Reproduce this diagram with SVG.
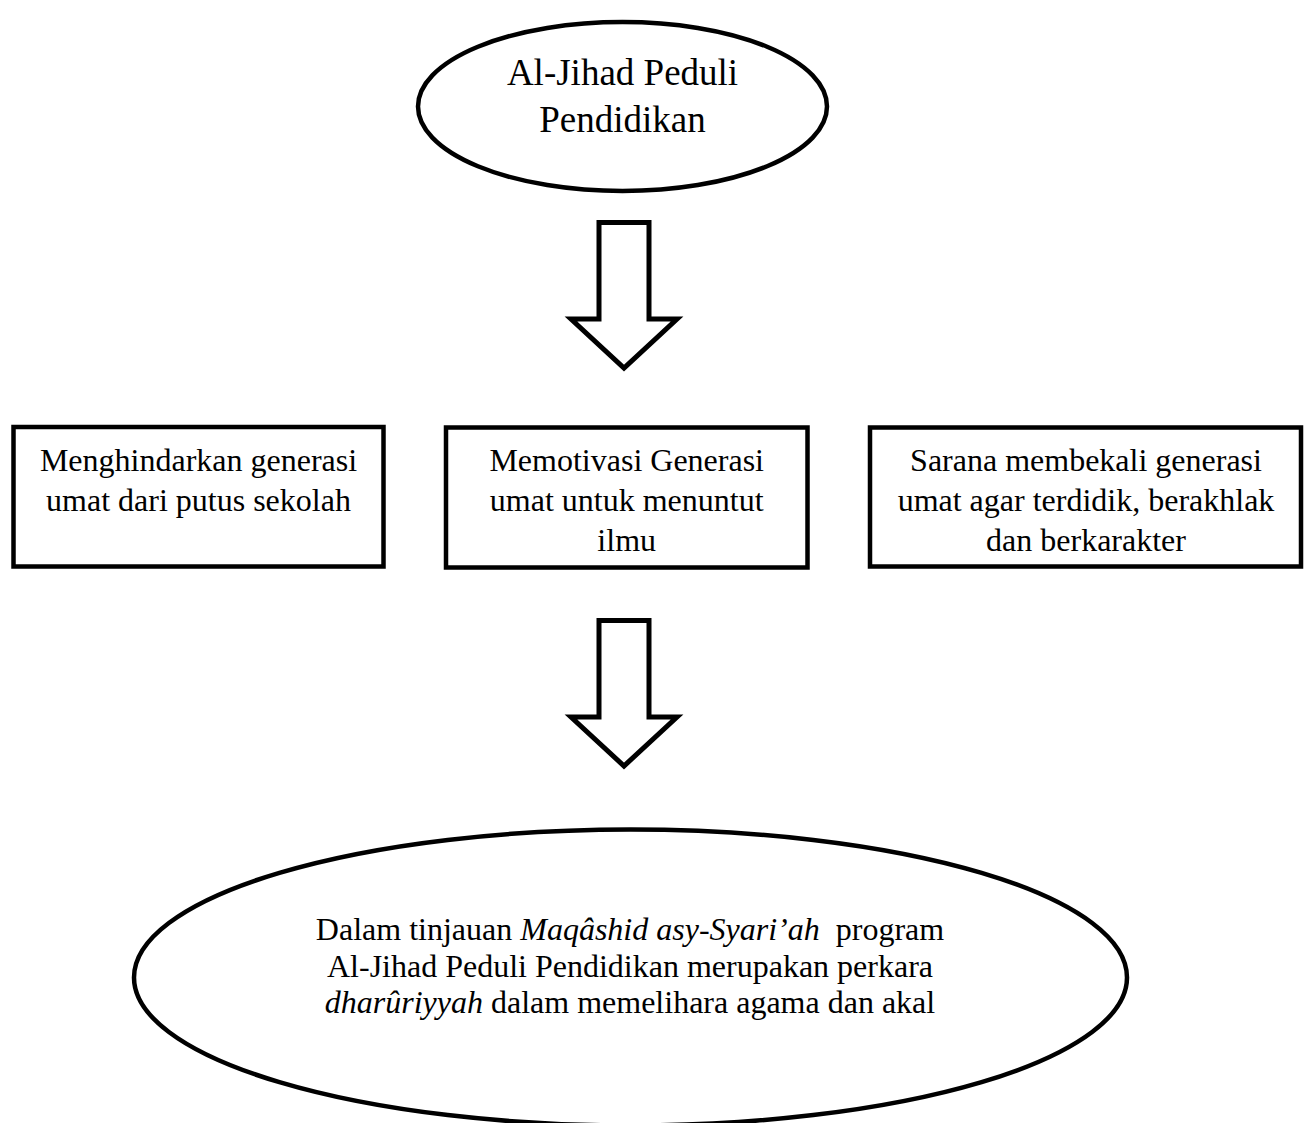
<svg xmlns="http://www.w3.org/2000/svg" width="1310" height="1123" viewBox="0 0 1310 1123">
<style>
.shape{fill:#fff;stroke:#000;stroke-width:4.5}
.arrow{fill:#fff;stroke:#000;stroke-width:5;stroke-linejoin:miter}
.t{font-family:"Liberation Serif","Times New Roman",serif;fill:#000;text-anchor:middle}
.big{font-size:37px}
.mid{font-size:32px}
.i{font-style:italic}
</style>
<rect width="1310" height="1123" fill="#fff"/>
<g id="connectors">
<path class="arrow" d="M599,222.5 H649 V319 H677 L624,368 L571,319 H599 Z"/>
<path class="arrow" d="M599,620.5 H649 V717 H677 L624,766 L571,717 H599 Z"/>
</g>
<g id="node-top">
<ellipse class="shape" cx="622.5" cy="106.5" rx="204.5" ry="84.5"/>
<text class="t big" x="622.5" y="85">Al-Jihad Peduli</text>
<text class="t big" x="622.5" y="132">Pendidikan</text>
</g>
<g id="node-box1">
<rect class="shape" x="13.5" y="427" width="370" height="139.5"/>
<text class="t mid" x="198.5" y="471">Menghindarkan generasi</text>
<text class="t mid" x="198.5" y="511">umat dari putus sekolah</text>
</g>
<g id="node-box2">
<rect class="shape" x="446" y="427.5" width="361.5" height="140"/>
<text class="t mid" x="626.7" y="471">Memotivasi Generasi</text>
<text class="t mid" x="626.7" y="511">umat untuk menuntut</text>
<text class="t mid" x="626.7" y="551">ilmu</text>
</g>
<g id="node-box3">
<rect class="shape" x="870" y="427.5" width="431" height="139"/>
<text class="t mid" x="1086" y="471">Sarana membekali generasi</text>
<text class="t mid" x="1086" y="511">umat agar terdidik, berakhlak</text>
<text class="t mid" x="1086" y="551">dan berkarakter</text>
</g>
<g id="node-bottom">
<ellipse class="shape" cx="630.5" cy="977.5" rx="496.5" ry="148"/>
<text class="t mid" x="630" y="940">Dalam tinjauan <tspan class="i">Maqâshid asy-Syari’ah</tspan><tspan dx="8"> program</tspan></text>
<text class="t mid" x="630" y="976.5">Al-Jihad Peduli Pendidikan merupakan perkara</text>
<text class="t mid" x="630" y="1013"><tspan class="i">dharûriyyah</tspan> dalam memelihara agama dan akal</text>
</g>
</svg>
